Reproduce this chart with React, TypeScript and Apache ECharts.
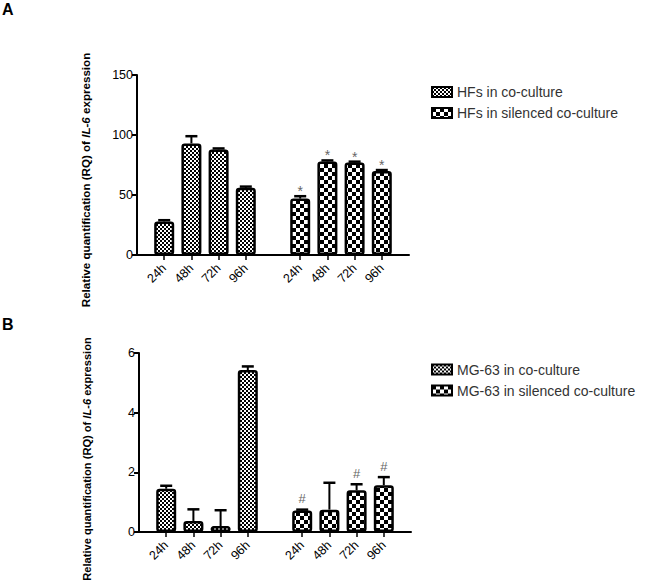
import React, { useEffect, useRef } from "react";
import * as echarts from "echarts";

// time points shown under each group
const timepoints = ["24h", "48h", "72h", "96h"];

// panel A - HFs
const hfsCoCulture = [28, 93, 88, 56];
const hfsCoCultureErr = [1, 6, 0.8, 1];
const hfsSilenced = [47, 78, 77, 70];
const hfsSilencedErr = [2, 0.8, 0.8, 0.8];
const hfsMarks = ["*", "*", "*", "*"];
const yTicksA = { min: 0, max: 150, interval: 50 };

// panel B - MG-63
const mgCoCulture = [1.45, 0.37, 0.2, 5.43];
const mgCoCultureErr = [0.1, 0.39, 0.53, 0.12];
const mgSilenced = [0.72, 0.75, 1.4, 1.57];
const mgSilencedErr = [0.03, 0.9, 0.2, 0.27];
const mgMarks = ["#", "", "#", "#"];
const yTicksB = { min: 0, max: 6, interval: 2 };

const seriesNamesA = ["HFs in co-culture", "HFs in silenced co-culture"];
const seriesNamesB = ["MG-63 in co-culture", "MG-63 in silenced co-culture"];

const FONT = "'Liberation Sans', Arial, sans-serif";

// category slots: pad, 4 times, pad, 4 times, pad
const slots = [
  "pad0",
  ...timepoints.map((t) => "a|" + t),
  "pad1",
  ...timepoints.map((t) => "b|" + t),
  "pad2",
];
const firstGroupStart = 1;
const secondGroupStart = 6;

const makeChecker = (cell: number) => {
  const c = document.createElement("canvas");
  c.width = cell * 2;
  c.height = cell * 2;
  const ctx = c.getContext("2d")!;
  ctx.fillStyle = "#fff";
  ctx.fillRect(0, 0, cell * 2, cell * 2);
  ctx.fillStyle = "#000";
  ctx.fillRect(0, 0, cell, cell);
  ctx.fillRect(cell, cell, cell, cell);
  return c;
};

const placeAt = (vals: number[], start: number) => {
  const out: (number | string)[] = slots.map(() => "-");
  vals.forEach((v, i) => (out[start + i] = v));
  return out;
};

const App = () => {
  const chartRef = useRef<HTMLDivElement>(null);

  useEffect(() => {
    if (!chartRef.current) return;
    const myChart = echarts.init(chartRef.current, null, { renderer: "svg" });

    const finePattern = { image: makeChecker(2), repeat: "repeat" };
    const coarsePattern = { image: makeChecker(4), repeat: "repeat" };

    const errorSeries = (
      name: string,
      idx: number,
      groups: { vals: number[]; errs: number[]; start: number; marks: string[] }[],
      markOffset: number,
      markSize: number
    ) => {
      const data: number[][] = [];
      const marks: string[] = [];
      groups.forEach((g) => {
        g.vals.forEach((v, i) => {
          data.push([g.start + i, v, g.errs[i]]);
          marks.push(g.marks[i] || "");
        });
      });
      return {
        name,
        type: "custom",
        xAxisIndex: idx,
        yAxisIndex: idx,
        z: 5,
        silent: true,
        data,
        renderItem: (params: any, api: any) => {
          const x = api.value(0);
          const v = api.value(1);
          const e = api.value(2);
          const base = api.coord([x, v]);
          const top = api.coord([x, v + e]);
          const children: any[] = [
            {
              type: "line",
              shape: { x1: base[0], y1: base[1], x2: top[0], y2: top[1] },
              style: { stroke: "#000", lineWidth: 2 },
            },
            {
              type: "line",
              shape: { x1: top[0] - 6, y1: top[1], x2: top[0] + 6, y2: top[1] },
              style: { stroke: "#000", lineWidth: 2.5 },
            },
          ];
          const m = marks[params.dataIndex];
          if (m) {
            children.push({
              type: "text",
              x: top[0],
              y: top[1] - markOffset,
              style: {
                text: m,
                fill: "#666",
                fontSize: markSize,
                fontFamily: FONT,
                align: "center",
                verticalAlign: "middle",
              },
            });
          }
          return { type: "group", children };
        },
      };
    };

    const xAxis = (idx: number) => ({
      type: "category",
      gridIndex: idx,
      data: slots,
      boundaryGap: false,
      axisLine: { lineStyle: { color: "#000", width: 2 } },
      axisTick: {
        length: 5,
        interval: (_i: number, v: string) => !v.startsWith("pad"),
        lineStyle: { color: "#000", width: 1.5 },
      },
      axisLabel: {
        interval: (_i: number, v: string) => !v.startsWith("pad"),
        formatter: (v: string) => (v.startsWith("pad") ? "" : v.split("|")[1]),
        rotate: 45,
        margin: 11,
        fontSize: 12.5,
        fontFamily: FONT,
        color: "#000",
      },
      splitLine: { show: false },
    });

    const yAxis = (idx: number, t: { min: number; max: number; interval: number }) => ({
      type: "value",
      gridIndex: idx,
      min: t.min,
      max: t.max,
      interval: t.interval,
      axisLine: { show: true, lineStyle: { color: "#000", width: 2 } },
      axisTick: { show: true, length: 5, lineStyle: { color: "#000", width: 2 } },
      axisLabel: { fontSize: 12.5, fontFamily: FONT, color: "#000", margin: 4 },
      splitLine: { show: false },
    });

    const barStyle = (pattern: any) => ({
      color: pattern,
      borderColor: "#000",
      borderWidth: 2.5,
      borderRadius: 2,
    });

    const bar = (name: string, idx: number, vals: number[], start: number, pattern: any) => ({
      name,
      type: "bar",
      xAxisIndex: idx,
      yAxisIndex: idx,
      barWidth: 20,
      barGap: "-100%",
      data: placeAt(vals, start),
      itemStyle: barStyle(pattern),
    });

    const legend = (names: string[], top: number) => ({
      orient: "vertical",
      left: 426,
      top,
      data: names,
      icon: "rect",
      itemWidth: 20,
      itemHeight: 10,
      itemGap: 7,
      itemStyle: { borderColor: "#000", borderWidth: 2 },
      textStyle: { fontSize: 14, fontFamily: FONT, color: "#333", lineHeight: 14 },
      selectedMode: false,
    });

    const yTitle = (x: number, y: number, size: number) => ({
      type: "text",
      x,
      y,
      rotation: Math.PI / 2,
      style: {
        text: "Relative quantification (RQ) of {i|IL-6} expression",
        fontSize: size,
        fontWeight: "bold",
        fontFamily: FONT,
        fill: "#000",
        align: "center",
        verticalAlign: "middle",
        rich: {
          i: { fontStyle: "italic", fontWeight: "bold", fontSize: size, fontFamily: FONT, fill: "#000" },
        },
      },
    });

    const option = {
      animation: false,
      backgroundColor: "#fff",
      grid: [
        { left: 137, top: 75, width: 272, height: 180 },
        { left: 139, top: 353, width: 272, height: 179 },
      ],
      xAxis: [xAxis(0), xAxis(1)],
      yAxis: [yAxis(0, yTicksA), yAxis(1, yTicksB)],
      legend: [legend(seriesNamesA, 80), legend(seriesNamesB, 357.5)],
      graphic: [
        {
          type: "text",
          left: 2,
          top: 1,
          style: { text: "A", fontSize: 16, fontWeight: "bold", fontFamily: FONT, fill: "#000" },
        },
        {
          type: "text",
          left: 2,
          top: 316,
          style: { text: "B", fontSize: 16, fontWeight: "bold", fontFamily: FONT, fill: "#000" },
        },
        yTitle(85.5, 180, 11.6),
        yTitle(86.5, 459, 11.1),
      ],
      series: [
        bar(seriesNamesA[0], 0, hfsCoCulture, firstGroupStart, finePattern),
        bar(seriesNamesA[1], 0, hfsSilenced, secondGroupStart, coarsePattern),
        errorSeries("errA", 0, [
          { vals: hfsCoCulture, errs: hfsCoCultureErr, start: firstGroupStart, marks: [] },
          { vals: hfsSilenced, errs: hfsSilencedErr, start: secondGroupStart, marks: hfsMarks },
        ], 5, 14),
        bar(seriesNamesB[0], 1, mgCoCulture, firstGroupStart, finePattern),
        bar(seriesNamesB[1], 1, mgSilenced, secondGroupStart, coarsePattern),
        errorSeries("errB", 1, [
          { vals: mgCoCulture, errs: mgCoCultureErr, start: firstGroupStart, marks: [] },
          { vals: mgSilenced, errs: mgSilencedErr, start: secondGroupStart, marks: mgMarks },
        ], 11, 13),
      ],
    };

    myChart.setOption(option as any);

    return () => {
      myChart.dispose();
    };
  }, []);

  return (
    <div
      ref={chartRef}
      style={{ position: "fixed", left: 0, top: 0, width: "650px", height: "584px" }}
    />
  );
};

export default App;
